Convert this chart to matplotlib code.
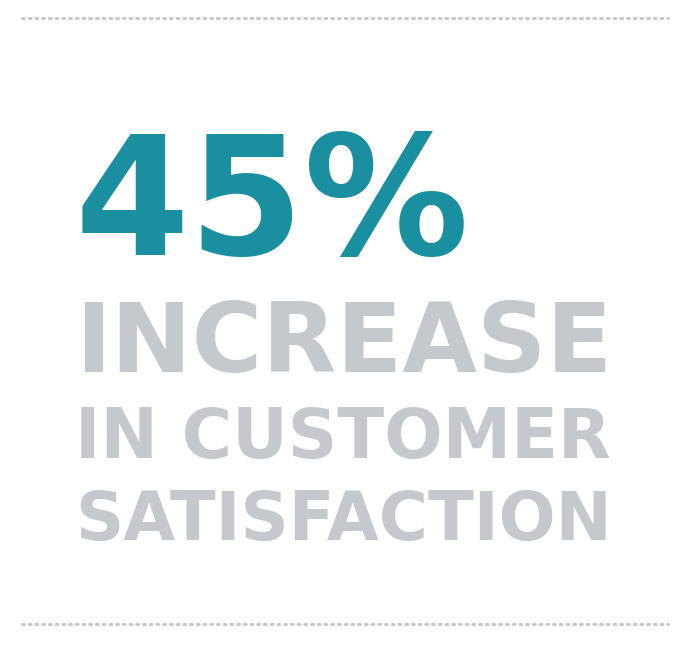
import matplotlib
matplotlib.use("Agg")
import matplotlib.pyplot as plt

value = [45]
lines = ["INCREASE", "IN CUSTOMER", "SATISFACTION"]
W, H = 688, 646
fig = plt.figure(figsize=(W/100, H/100), dpi=100)
fig.patch.set_facecolor("white")
ax = fig.add_axes([0, 0, 1, 1])
ax.set_xlim(0, W); ax.set_ylim(H, 0); ax.axis("off")

dot = "#c5c8cc"
for y in [18, 624]:
    ax.plot([22, 668], [y, y], color=dot, lw=2.2, ls=(0, (0.6, 1.6)), dash_capstyle="round")

fig.canvas.draw()
r = fig.canvas.get_renderer()

def fit(t, x0, x1, yb, color, fam, fs0):
    txt = ax.text(x0, yb, t, color=color, fontsize=fs0, fontweight="bold", family=fam,
                  va="baseline", ha="left")
    w = txt.get_window_extent(r).width
    txt.set_fontsize(fs0 * (x1 - x0) / w)
    return txt

fit(f"{value[0]}%", 75, 470, 255, "#1a8fa0", "DejaVu Sans", 140)
grey = "#c5c8cc"
for t, yb in zip(lines, [372, 458, 540]):
    fit(t, 75, 612, yb, grey, "DejaVu Sans", 60)
fig.savefig("out.png", dpi=100)
